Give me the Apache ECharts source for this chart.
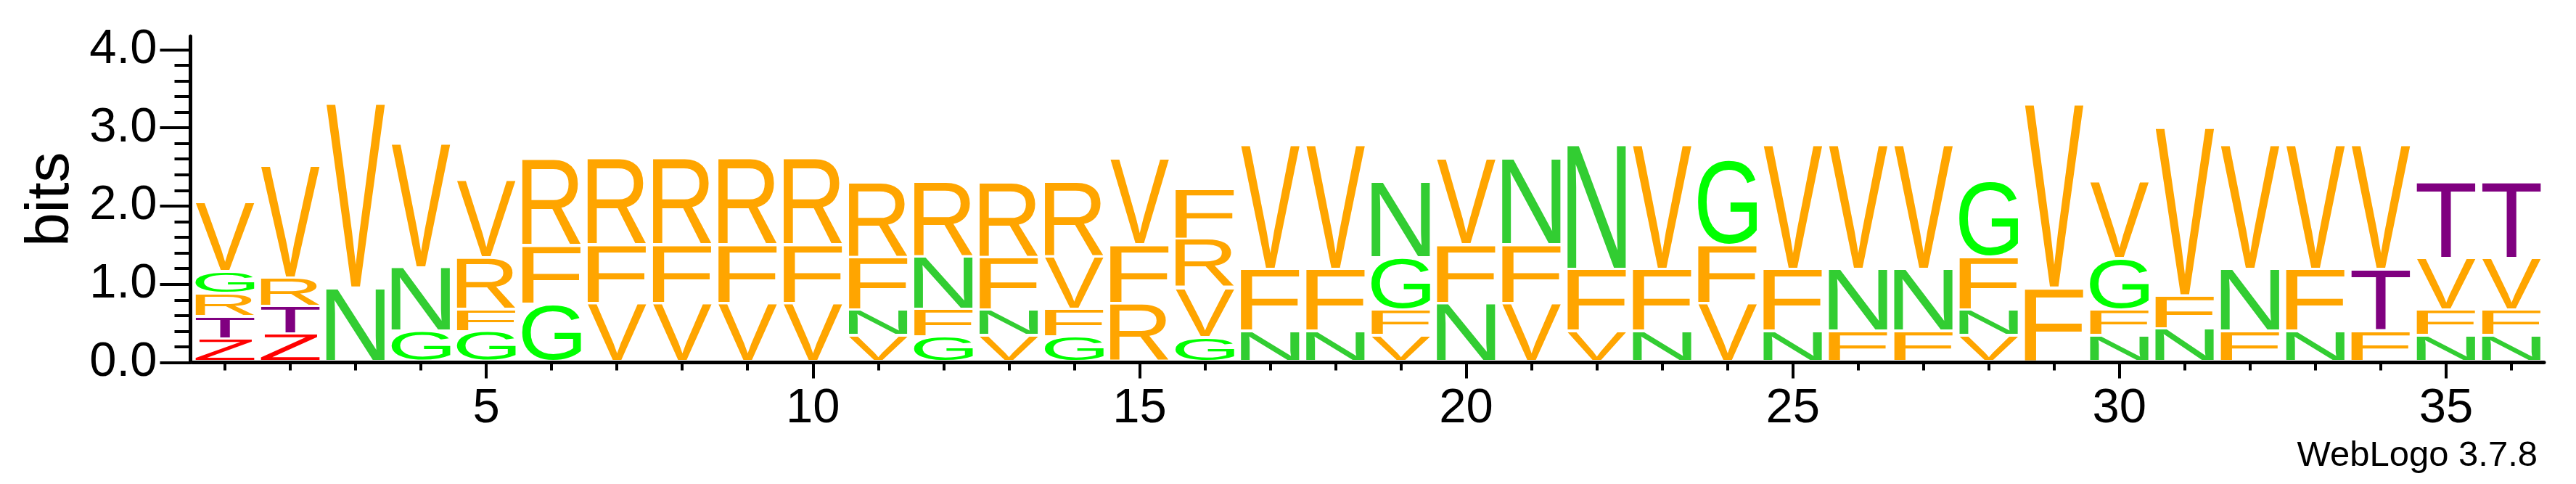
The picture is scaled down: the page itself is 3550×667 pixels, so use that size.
<!DOCTYPE html>
<html>
<head>
<meta charset="utf-8">
<script src="https://cdn.jsdelivr.net/npm/echarts@6/dist/echarts.min.js"></script>
<style>
  html, body { margin: 0; padding: 0; background: #fff; }
  #main { width: 3550px; height: 667px; }
</style>
</head>
<body>
<div id="main"></div>
<script>
// sequence positions (x axis)
var positions = [1, 2, 3, 4, 5, 6, 7, 8, 9, 10, 11, 12, 13, 14, 15, 16, 17, 18,
  19, 20, 21, 22, 23, 24, 25, 26, 27, 28, 29, 30, 31, 32, 33, 34, 35, 36];

// letters of each stack, bottom to top
var stackLetters = [
  'ZTRGV', 'ZTRV', 'NV', 'GNV', 'GFRV', 'GFR', 'VFR', 'VFR', 'VFR', 'VFR',
  'VNFR', 'GFNR', 'VNFR', 'GFVR', 'RFV', 'GVRF', 'NFV', 'NFV', 'VFGN', 'NFV',
  'VFN', 'VFN', 'NFV', 'VFG', 'NFV', 'FNV', 'FNV', 'VNFG', 'FV', 'NFGV',
  'NFV', 'FNV', 'NFV', 'FTV', 'NFVT', 'NFVT'
];

// height in bits of each letter, bottom to top
var stackBits = [
  [0.29, 0.28, 0.30, 0.28, 0.89],
  [0.35, 0.355, 0.365, 1.44],
  [0.94, 2.36],
  [0.39, 0.81, 1.59],
  [0.38, 0.28, 0.67, 0.99],
  [0.73, 0.75, 1.11],
  [0.74, 0.75, 1.11],
  [0.74, 0.75, 1.11],
  [0.74, 0.75, 1.11],
  [0.74, 0.75, 1.11],
  [0.33, 0.33, 0.67, 0.97],
  [0.32, 0.35, 0.67, 0.97],
  [0.33, 0.33, 0.67, 0.97],
  [0.32, 0.35, 0.67, 0.97],
  [0.74, 0.75, 1.10],
  [0.31, 0.63, 0.625, 0.64],
  [0.39, 0.79, 1.59],
  [0.39, 0.79, 1.59],
  [0.33, 0.33, 0.67, 0.97],
  [0.74, 0.75, 1.10],
  [0.74, 0.75, 1.10],
  [0.39, 0.79, 1.59],
  [0.39, 0.79, 1.59],
  [0.74, 0.75, 1.10],
  [0.39, 0.79, 1.59],
  [0.39, 0.79, 1.59],
  [0.39, 0.79, 1.59],
  [0.33, 0.33, 0.67, 0.97],
  [0.94, 2.35],
  [0.33, 0.33, 0.66, 0.98],
  [0.42, 0.42, 2.15],
  [0.39, 0.79, 1.59],
  [0.39, 0.79, 1.59],
  [0.39, 0.79, 1.59],
  [0.33, 0.33, 0.66, 0.98],
  [0.33, 0.33, 0.66, 0.98]
];

// axis ticks and labels
var xMinorTicks = positions;
var xMajorTicks = [5, 10, 15, 20, 25, 30, 35];
var yMajorTicks = [0, 1, 2, 3, 4];
var yMinorTicks = [0, 0.2, 0.4, 0.6, 0.8, 1, 1.2, 1.4, 1.6, 1.8, 2, 2.2, 2.4, 2.6, 2.8,
  3, 3.2, 3.4, 3.6, 3.8, 4];

var letterCodes = 'VRFNGTZ';
var letterColors = {
  V: '#ffa500', R: '#ffa500', F: '#ffa500',
  N: '#32cd32', G: '#00ff00', T: '#800080', Z: '#ff0000'
};

var FONT = '200px "Liberation Sans"';

// glyph boxes, measured against the 'middle' baseline zrender uses
var ctx = document.createElement('canvas').getContext('2d');
ctx.font = FONT;
ctx.textBaseline = 'middle';
ctx.textAlign = 'left';
var glyph = {};
letterCodes.split('').forEach(function (ch) {
  var m = ctx.measureText(ch);
  glyph[ch] = {
    left: m.actualBoundingBoxLeft,
    w: m.actualBoundingBoxLeft + m.actualBoundingBoxRight,
    asc: m.actualBoundingBoxAscent,
    h: m.actualBoundingBoxAscent + m.actualBoundingBoxDescent
  };
});

var letterData = [];
positions.forEach(function (pos, i) {
  var base = 0;
  stackLetters[i].split('').forEach(function (ch, j) {
    var top = base + stackBits[i][j];
    letterData.push([pos, base, top, letterCodes.indexOf(ch)]);
    base = top;
  });
});

function renderLetter(params, api) {
  var pos = api.value(0);
  var ch = letterCodes.charAt(api.value(3));
  var g = glyph[ch];
  var top = api.coord([pos, api.value(2)]);
  var bottom = api.coord([pos, api.value(1)]);
  var w = api.size([1, 0])[0] * 0.9;
  var h = bottom[1] - 3.5 - top[1];
  if (h <= 0) return null;
  return {
    type: 'text',
    x: top[0] - w / 2,
    y: top[1],
    scaleX: w / g.w,
    scaleY: h / g.h,
    silent: true,
    style: {
      text: ch, x: g.left, y: g.asc, font: FONT,
      fill: letterColors[ch], align: 'left', verticalAlign: 'middle'
    }
  };
}

var tickFont = { fontFamily: 'Liberation Sans', fontSize: 67, color: '#000' };

var chart = echarts.init(document.getElementById('main'));
chart.setOption({
  animation: false,
  grid: { left: 265, right: 44, top: 50, bottom: 167.5 },
  xAxis: [{
    type: 'value', min: 0.5, max: 36.5, position: 'bottom',
    axisLine: { show: true, lineStyle: { color: '#000', width: 5 } },
    axisTick: { show: true, customValues: xMinorTicks, length: 11, lineStyle: { color: '#000', width: 4 } },
    axisLabel: { show: false },
    splitLine: { show: false }
  }, {
    type: 'value', min: 0.5, max: 36.5, position: 'bottom', offset: 0,
    axisLine: { show: false },
    axisTick: { show: true, customValues: xMajorTicks, length: 22, lineStyle: { color: '#000', width: 4 } },
    axisLabel: Object.assign({ show: true, customValues: xMajorTicks, margin: 31 }, tickFont),
    splitLine: { show: false }
  }],
  yAxis: [{
    type: 'value', min: 0, max: 4.17, position: 'left', offset: 2.5,
    axisLine: { show: true, lineStyle: { color: '#000', width: 5 } },
    axisTick: { show: true, customValues: yMinorTicks, length: 22, lineStyle: { color: '#000', width: 4 } },
    axisLabel: { show: false },
    splitLine: { show: false }
  }, {
    type: 'value', min: 0, max: 4.17, position: 'left', offset: 2.5,
    name: 'bits', nameLocation: 'middle', nameGap: 150,
    nameTextStyle: { fontFamily: 'Liberation Sans', fontSize: 84, color: '#000' },
    axisLine: { show: false },
    axisTick: { show: true, customValues: yMajorTicks, length: 42, lineStyle: { color: '#000', width: 4 } },
    axisLabel: Object.assign({
      show: true, customValues: yMajorTicks, margin: 46,
      formatter: function (v) { return v.toFixed(1); }
    }, tickFont),
    splitLine: { show: false }
  }],
  series: [{
    type: 'custom',
    xAxisIndex: 0,
    yAxisIndex: 0,
    renderItem: renderLetter,
    data: letterData,
    silent: true
  }],
  graphic: [{
    type: 'text', right: 53, top: 604,
    style: { text: 'WebLogo 3.7.8', font: '49px "Liberation Sans"', fill: '#000' }
  }]
});
</script>
</body>
</html>
